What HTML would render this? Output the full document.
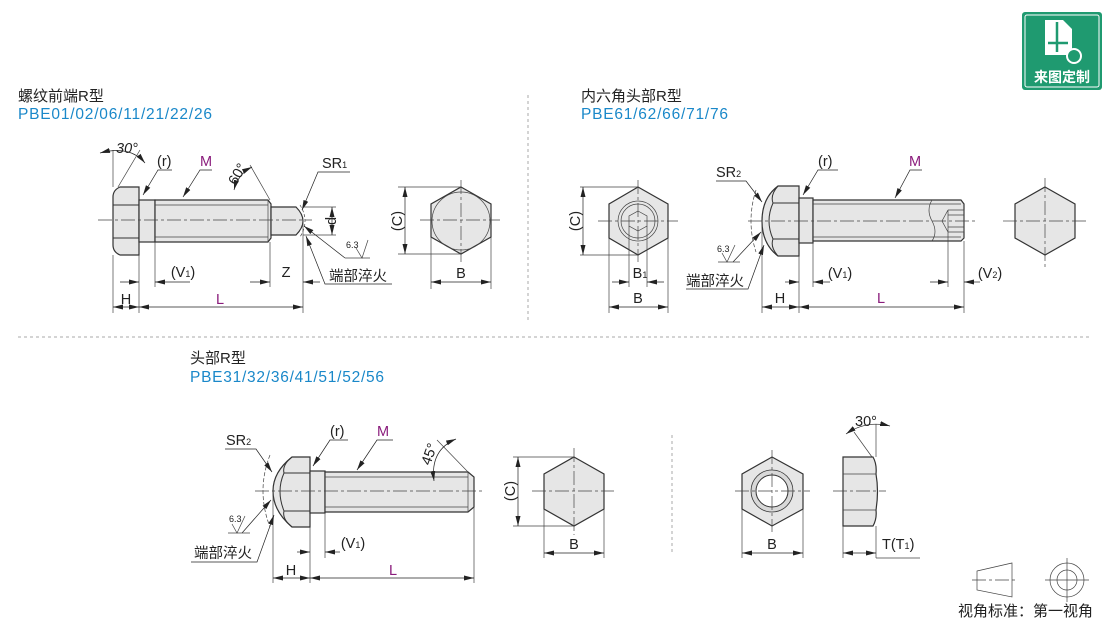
<!DOCTYPE html>
<html><head><meta charset="utf-8"><style>
html,body{margin:0;padding:0;background:#fff;}
svg{display:block;font-family:"Liberation Sans","Noto Sans CJK SC",sans-serif;}
.o{fill:#e6e6e6;stroke:#333;stroke-width:1.2;}
.l{stroke:#333;stroke-width:1;fill:none;}
.t{stroke:#444;stroke-width:0.7;fill:none;}
.c{stroke:#444;stroke-width:0.7;fill:none;stroke-dasharray:14 3 3 3;}
.d{stroke:#222;stroke-width:0.7;fill:none;marker-start:url(#a);marker-end:url(#a);}
.d1{stroke:#222;stroke-width:0.7;fill:none;marker-end:url(#a);}
.tx{font-size:14.5px;fill:#222;}
.h{font-size:15px;fill:#222;}
.b{font-size:15.5px;fill:#1a88c9;}
.p{fill:#8a1c7c;}
.sep{stroke:#aaa;stroke-width:1;stroke-dasharray:3 3;}
</style></head><body>
<svg width="1110" height="626" viewBox="0 0 1110 626" xmlns="http://www.w3.org/2000/svg">
<defs>
<marker id="a" viewBox="0 0 10 6" refX="10" refY="3" markerWidth="10" markerHeight="6" orient="auto-start-reverse" markerUnits="userSpaceOnUse"><path d="M0,0.5 L10,3 L0,5.5 Z" fill="#222"/></marker>
</defs>

<!-- logo -->
<rect x="1022" y="12" width="80" height="78" rx="3" fill="#1f9a70"/>
<rect x="1025" y="15" width="74" height="72" rx="2" fill="none" stroke="#fff" stroke-width="1"/>
<path d="M1045,20 L1063,20 L1072,29 L1072,55 L1045,55 Z" fill="#fff"/>
<path d="M1057,22 L1057,52 M1048,43 L1068,43" stroke="#1f9a70" stroke-width="2.5"/>
<circle cx="1074" cy="56" r="7" fill="#1f9a70" stroke="#fff" stroke-width="2"/>
<text x="1062" y="82" font-size="14" font-weight="bold" fill="#fff" text-anchor="middle">来图定制</text>

<!-- titles -->
<text x="18" y="101" class="h">螺纹前端R型</text>
<text x="18" y="119" class="b" textLength="194">PBE01/02/06/11/21/22/26</text>
<text x="581" y="101" class="h">内六角头部R型</text>
<text x="581" y="119" class="b" textLength="147">PBE61/62/66/71/76</text>
<text x="190" y="363" class="h">头部R型</text>
<text x="190" y="382" class="b" textLength="194">PBE31/32/36/41/51/52/56</text>

<line x1="528" y1="95" x2="528" y2="322" class="sep"/>
<line x1="18" y1="337" x2="1090" y2="337" class="sep"/>
<line x1="672" y1="435" x2="672" y2="555" class="sep"/>

<!-- ===== Top-left drawing ===== -->
<path class="o" d="M139,187 L120,187 Q113,190 113,197 L113,245 Q113,252 120,255 L139,255 Z"/>
<path class="l" d="M113,205 L139,205 M113,238 L139,238"/>
<rect class="o" x="139" y="200" width="16" height="42"/>
<path class="o" d="M155,200 L268,200 L271,204 L271,238 L268,242 L155,242 Z"/>
<path class="t" d="M155,205 L268,205 M155,237 L268,237 M268,200 L268,242"/>
<path class="o" d="M271,207 L296,207 Q303,214 303,221 Q303,228 296,235 L271,235 Z"/>
<line class="c" x1="98" y1="220" x2="312" y2="220"/>
<path class="t" d="M300,205 Q310,221 300,237" stroke-dasharray="3 2"/>
<path class="t" d="M113,255 L113,313 M139,255 L139,313 M155,242 L155,287 M270,242 L270,287 M303,221 L303,313 M113,187 L113,150 M303,207 L336,207 M303,235 L336,235"/>
<line class="d" x1="113" y1="307" x2="139" y2="307"/>
<line class="d" x1="139" y1="307" x2="303" y2="307"/>
<line class="d1" x1="120" y1="282" x2="139" y2="282"/>
<line class="d1" x1="190" y1="282" x2="155" y2="282"/>
<line class="d1" x1="250" y1="282" x2="270" y2="282"/>
<line class="d1" x1="320" y1="282" x2="303" y2="282"/>
<line class="d" x1="332" y1="207" x2="332" y2="235"/>
<text x="126" y="304" class="tx" text-anchor="middle">H</text>
<text x="220" y="304" class="tx p" text-anchor="middle">L</text>
<text x="183" y="277" class="tx" text-anchor="middle">(V<tspan font-size="9">1</tspan>)</text>
<text x="286" y="277" class="tx" text-anchor="middle">Z</text>
<text x="331" y="221" class="tx" text-anchor="middle" transform="rotate(-90 331 221)" dy="5">d</text>
<path class="d" d="M100,153 Q130,145 145,163"/>
<line class="t" x1="118" y1="187" x2="140" y2="150"/>
<text x="116" y="153" class="tx" font-style="italic">30°</text>
<path class="d1" d="M172,170 L158,170 L143,195"/>
<text x="157" y="166" class="tx">(r)</text>
<path class="d1" d="M212,170 L200,170 L183,197"/>
<text x="200" y="166" class="tx p">M</text>
<path class="t" d="M250,165 L270,200"/>
<path class="d" d="M234,190 Q238,174 252,167"/>
<text x="236" y="186" class="tx" transform="rotate(-60 236 186)">60°</text>
<path class="d1" d="M350,172 L318,172 L302,210"/>
<text x="322" y="168" class="tx">SR<tspan font-size="9">1</tspan></text>
<path class="d1" d="M345,258 L304,226"/>
<path class="d1" d="M392,284 L325,284 L306,236"/>
<text x="329" y="281" class="tx">端部淬火</text>
<path class="t" d="M345,258 L370,258 M356,248 L362,258 L368,240"/>
<text x="346" y="248" font-size="9" fill="#222">6.3</text>
<polygon class="o" points="461,187 491,204 491,237 461,254 431,237 431,204"/>
<circle class="t" cx="461" cy="221" r="29" stroke-width="0.9"/>
<line class="c" x1="420" y1="220" x2="500" y2="220"/>
<line class="c" x1="461" y1="180" x2="461" y2="262"/>
<path class="t" d="M398,187 L461,187 M398,254 L461,254 M431,237 L431,289 M491,237 L491,289"/>
<line class="d" x1="405" y1="187" x2="405" y2="254"/>
<text x="397" y="221" class="tx" text-anchor="middle" transform="rotate(-90 397 221)" dy="5">(C)</text>
<line class="d" x1="431" y1="282" x2="491" y2="282"/>
<text x="461" y="278" class="tx" text-anchor="middle">B</text>

<!-- ===== Top-right ===== -->
<polygon class="o" points="638,187 668,204 668,238 638,255 609,238 609,204"/>
<circle class="t" cx="638" cy="221" r="20" stroke-width="0.9"/>
<circle class="t" cx="638" cy="221" r="17"/>
<polygon class="t" points="638,211 647,216 647,226 638,231 629,226 629,216" stroke-width="0.9"/>
<line class="c" x1="598" y1="221" x2="678" y2="221"/>
<line class="c" x1="638" y1="180" x2="638" y2="262"/>
<path class="t" d="M580,187 L638,187 M580,255 L638,255 M609,238 L609,313 M668,238 L668,313 M629,226 L629,287 M647,226 L647,287"/>
<line class="d" x1="583" y1="187" x2="583" y2="255"/>
<text x="575" y="221" class="tx" text-anchor="middle" transform="rotate(-90 575 221)" dy="5">(C)</text>
<line class="d1" x1="612" y1="282" x2="629" y2="282"/>
<line class="d1" x1="664" y1="282" x2="647" y2="282"/>
<text x="640" y="278" class="tx" text-anchor="middle">B<tspan font-size="9">1</tspan></text>
<line class="d" x1="609" y1="307" x2="668" y2="307"/>
<text x="638" y="303" class="tx" text-anchor="middle">B</text>
<path class="o" d="M799,186 L778,186 Q762,198 762,221 Q762,244 778,256 L799,256 Z"/>
<path class="l" d="M773,203 L799,203 M773,239 L799,239 M778,186 Q770,195 773,203 Q765,221 773,239 Q770,247 778,256"/>
<rect class="o" x="799" y="198" width="14" height="45"/>
<path class="o" d="M813,200 L961,200 L964,204 L964,238 L961,241 L813,241 Z"/>
<path class="t" d="M813,204 L961,204 M813,237 L961,237"/>
<path class="t" d="M932,200 Q926,210 932,221 Q938,232 932,241"/>
<path class="t" d="M948,210 L964,210 L964,232 L948,232 M948,210 L942,221 L948,232 Z M948,215 L964,215 M948,227 L964,227"/>
<line class="c" x1="748" y1="221" x2="975" y2="221"/>
<path class="t" d="M756,190 Q746,221 756,252" stroke-dasharray="4 2"/>
<path class="t" d="M762,221 L762,313 M799,256 L799,313 M813,243 L813,287 M948,232 L948,287 M964,241 L964,313"/>
<line class="d" x1="762" y1="307" x2="799" y2="307"/>
<line class="d" x1="799" y1="307" x2="964" y2="307"/>
<text x="780" y="303" class="tx" text-anchor="middle">H</text>
<text x="881" y="303" class="tx p" text-anchor="middle">L</text>
<line class="d1" x1="785" y1="282" x2="799" y2="282"/>
<line class="d1" x1="830" y1="282" x2="813" y2="282"/>
<text x="840" y="278" class="tx" text-anchor="middle">(V<tspan font-size="9">1</tspan>)</text>
<line class="d1" x1="930" y1="282" x2="948" y2="282"/>
<line class="d1" x1="980" y1="282" x2="964" y2="282"/>
<text x="990" y="278" class="tx" text-anchor="middle">(V<tspan font-size="9">2</tspan>)</text>
<path class="d1" d="M716,181 L746,181 L762,202"/>
<text x="716" y="177" class="tx">SR<tspan font-size="9">2</tspan></text>
<path class="d1" d="M838,170 L818,170 L803,195"/>
<text x="818" y="166" class="tx">(r)</text>
<path class="d1" d="M922,170 L910,170 L895,198"/>
<text x="909" y="166" class="tx p">M</text>
<path class="d1" d="M733,262 L761,232"/>
<path class="t" d="M718,262 L740,262 M722,253 L727,262 L735,245"/>
<text x="717" y="252" font-size="9" fill="#222">6.3</text>
<path class="d1" d="M686,289 L748,289 L764,245"/>
<text x="686" y="286" class="tx">端部淬火</text>
<polygon class="o" points="1045,187 1075,204 1075,238 1045,255 1015,238 1015,204"/>
<line class="c" x1="1003" y1="221" x2="1088" y2="221"/>
<line class="c" x1="1045" y1="178" x2="1045" y2="268"/>

<!-- ===== Bottom ===== -->
<path class="o" d="M310,457 L292,457 Q273,472 273,491 Q273,511 292,527 L310,527 Z"/>
<path class="l" d="M284,473 L310,473 M284,511 L310,511 M292,457 Q282,465 284,473 Q276,491 284,511 Q282,519 292,527"/>
<rect class="o" x="310" y="471" width="15" height="42"/>
<path class="o" d="M325,472 L468,472 L474,477 L474,507 L468,512 L325,512 Z"/>
<path class="t" d="M325,477 L468,477 M325,507 L468,507 M468,472 L468,512"/>
<line class="c" x1="255" y1="491" x2="485" y2="491"/>
<path class="t" d="M270,455 Q256,491 270,527" stroke-dasharray="4 2"/>
<path class="t" d="M273,491 L273,583 M310,527 L310,583 M325,513 L325,558 M474,507 L474,583"/>
<line class="d" x1="273" y1="578" x2="310" y2="578"/>
<line class="d" x1="310" y1="578" x2="474" y2="578"/>
<text x="291" y="575" class="tx" text-anchor="middle">H</text>
<text x="393" y="575" class="tx p" text-anchor="middle">L</text>
<line class="d1" x1="297" y1="552" x2="310" y2="552"/>
<line class="d1" x1="340" y1="552" x2="325" y2="552"/>
<text x="353" y="548" class="tx" text-anchor="middle">(V<tspan font-size="9">1</tspan>)</text>
<path class="d1" d="M225,449 L256,449 L272,472"/>
<text x="226" y="445" class="tx">SR<tspan font-size="9">2</tspan></text>
<path class="d1" d="M348,440 L330,440 L313,466"/>
<text x="330" y="436" class="tx">(r)</text>
<path class="d1" d="M393,440 L377,440 L357,470"/>
<text x="377" y="436" class="tx p">M</text>
<path class="t" d="M437,440 L468,472"/>
<path class="d" d="M434,481 Q430,450 456,439"/>
<text x="430" y="466" class="tx" transform="rotate(-70 430 466)">45°</text>
<path class="d1" d="M242,533 L271,500"/>
<path class="t" d="M228,533 L250,533 M232,524 L237,533 L245,516"/>
<text x="229" y="522" font-size="9" fill="#222">6.3</text>
<path class="d1" d="M191,562 L257,562 L274,515"/>
<text x="194" y="558" class="tx">端部淬火</text>
<polygon class="o" points="574,457 604,474 604,509 574,526 544,509 544,474"/>
<line class="c" x1="532" y1="491" x2="614" y2="491"/>
<line class="c" x1="574" y1="448" x2="574" y2="535"/>
<path class="t" d="M513,457 L574,457 M513,526 L574,526 M544,509 L544,558 M604,509 L604,558"/>
<line class="d" x1="518" y1="457" x2="518" y2="526"/>
<text x="510" y="491" class="tx" text-anchor="middle" transform="rotate(-90 510 491)" dy="5">(C)</text>
<line class="d" x1="544" y1="553" x2="604" y2="553"/>
<text x="574" y="549" class="tx" text-anchor="middle">B</text>

<!-- nut -->
<polygon class="o" points="772,457 803,474 803,509 772,526 742,509 742,474"/>
<circle cx="772" cy="491" r="21" fill="#d8d8d8" stroke="#333" stroke-width="0.8"/>
<circle cx="772" cy="491" r="16" fill="#fff" stroke="#333" stroke-width="1"/>
<line class="c" x1="735" y1="491" x2="810" y2="491"/>
<line class="c" x1="772" y1="450" x2="772" y2="532"/>
<path class="t" d="M742,509 L742,558 M803,509 L803,558"/>
<line class="d" x1="742" y1="553" x2="803" y2="553"/>
<text x="772" y="549" class="tx" text-anchor="middle">B</text>
<path class="o" d="M843,457 L873,457 Q877,464 876,474 Q879,491 876,510 Q877,519 873,526 L843,526 Z"/>
<path class="t" d="M843,474 L876,474 M843,510 L876,510"/>
<line class="c" x1="833" y1="491" x2="886" y2="491"/>
<path class="t" d="M843,526 L843,558 M876,526 L876,558 M876,558 L920,558 M876,457 L876,424 M872,457 L854,432"/>
<line class="d" x1="843" y1="553" x2="876" y2="553"/>
<text x="882" y="549" class="tx">T(T<tspan font-size="9">1</tspan>)</text>
<path class="d" d="M846,434 Q866,420 890,426"/>
<text x="855" y="426" class="tx">30°</text>

<!-- view standard -->
<path class="t" d="M977,571 L1012,563 L1012,597 L977,590 Z" stroke-width="0.9"/>
<line class="c" x1="972" y1="580" x2="1016" y2="580" stroke-dasharray="8 2 2 2"/>
<circle class="t" cx="1067" cy="580" r="17" stroke-width="0.9"/>
<circle class="t" cx="1067" cy="580" r="10" stroke-width="0.9"/>
<path class="t" d="M1045,580 L1089,580 M1067,558 L1067,602"/>
<text x="958" y="616" class="h">视角标准：第一视角</text>
</svg>
</body></html>
